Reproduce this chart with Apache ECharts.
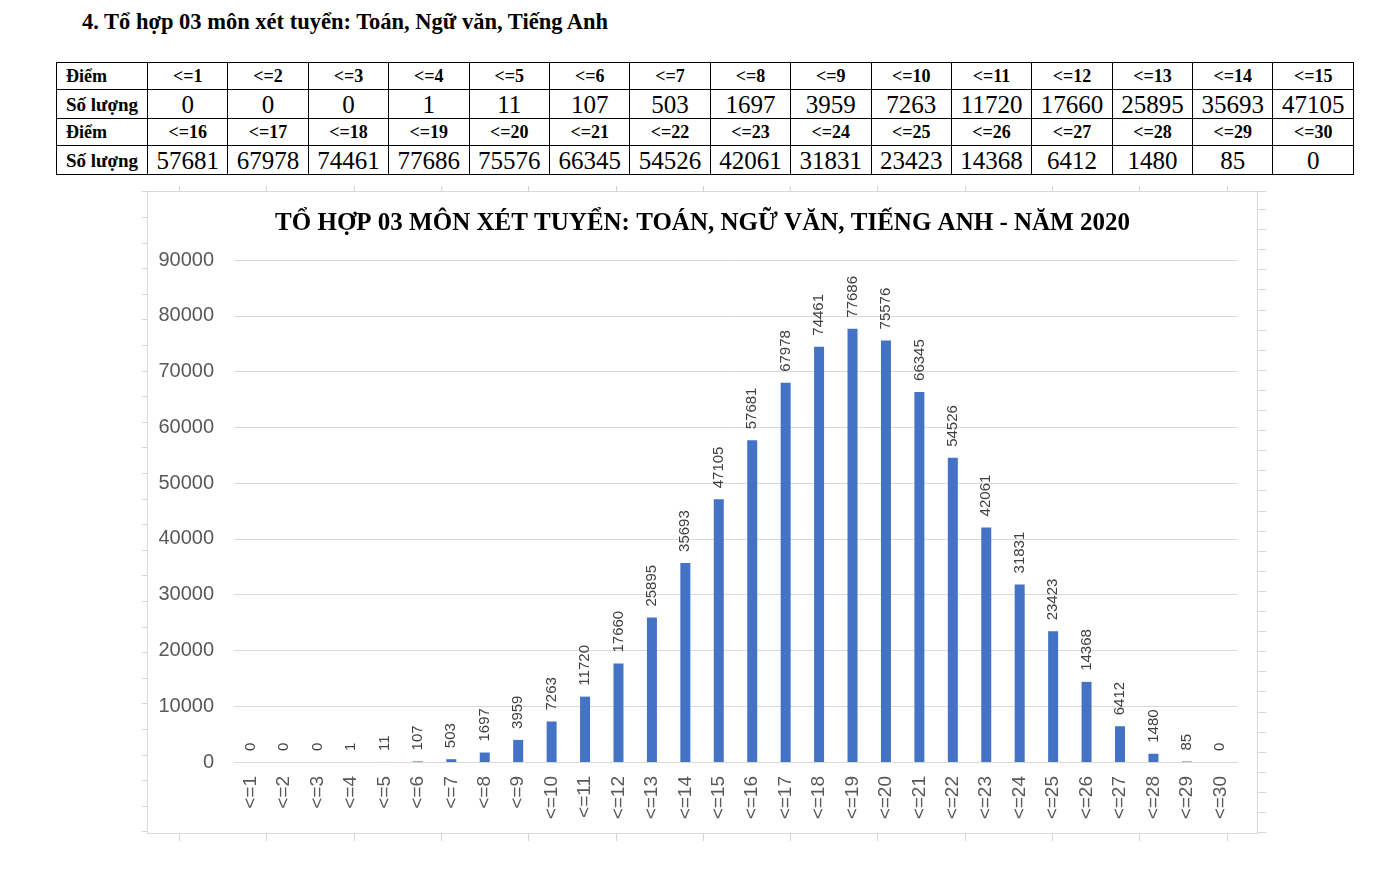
<!DOCTYPE html>
<html>
<head>
<meta charset="utf-8">
<script src="https://cdn.jsdelivr.net/npm/echarts@6/dist/echarts.min.js"></script>
<style>
  html, body { margin: 0; padding: 0; background: #fff; }
  body { width: 1390px; height: 875px; position: relative; overflow: hidden; }
  #heading { position: absolute; left: 82px; top: 9px; font-family: "Liberation Serif", "Times New Roman", serif; font-weight: bold; font-size: 22.5px; color: #000; white-space: nowrap; }
  #tbl { position: absolute; left: 56px; top: 62px; width: 1297px; table-layout: fixed; border-collapse: collapse; font-family: "Liberation Serif", "Times New Roman", serif; color: #000; }
  #tbl td { border: 1px solid #000; padding: 0; text-align: center; white-space: nowrap; overflow: hidden; }
  #tbl td.first { text-align: left; padding-left: 9px; font-weight: bold; font-size: 19px; }
  #tbl tr.hdr { height: 27px; }
  #tbl tr.val { height: 29px; }
  #tbl tr.hdr td { font-weight: bold; font-size: 18px; line-height: 25px; }
  #tbl tr.val td { font-size: 25px; line-height: 27px; }
  #tbl tr.val td.first { font-size: 19px; }
  #chartBox { position: absolute; left: 147px; top: 191px; width: 1111px; height: 643px; border: 1px solid #d9d9d9; box-sizing: border-box; }
  #chart { width: 100%; height: 100%; }
  .tk { position: absolute; background: #d4d4d4; }
</style>
</head>
<body>
<div id="heading">4. Tổ hợp 03 môn xét tuyển: Toán, Ngữ văn, Tiếng Anh</div>
<table id="tbl"><colgroup id="cols"></colgroup></table>
<div id="chartBox"><div id="chart"></div></div>
<div id="frameTicks"></div>
<script>
const categories = ["<=1","<=2","<=3","<=4","<=5","<=6","<=7","<=8","<=9","<=10","<=11","<=12","<=13","<=14","<=15","<=16","<=17","<=18","<=19","<=20","<=21","<=22","<=23","<=24","<=25","<=26","<=27","<=28","<=29","<=30"];
const counts = [0,0,0,1,11,107,503,1697,3959,7263,11720,17660,25895,35693,47105,57681,67978,74461,77686,75576,66345,54526,42061,31831,23423,14368,6412,1480,85,0];
const rowHeaderScore = "Điểm";
const rowHeaderCount = "Số lượng";
const chartTitle = "TỔ HỢP 03 MÔN XÉT TUYỂN: TOÁN, NGỮ VĂN, TIẾNG ANH - NĂM 2020";

// Build table (two blocks of 15 columns)
const tbl = document.getElementById('tbl');
const cols = document.getElementById('cols');
cols.innerHTML = '<col style="width:91px">' + Array(15).fill('<col style="width:80.4px">').join('');
for (let b = 0; b < 2; b++) {
  const cats = categories.slice(b*15, b*15+15);
  const vals = counts.slice(b*15, b*15+15);
  const tr1 = document.createElement('tr'); tr1.className = 'hdr';
  tr1.innerHTML = '<td class="first">' + rowHeaderScore + '</td>' + cats.map(c => '<td>' + c.replace('<','&lt;') + '</td>').join('');
  const tr2 = document.createElement('tr'); tr2.className = 'val';
  tr2.innerHTML = '<td class="first">' + rowHeaderCount + '</td>' + vals.map(v => '<td>' + v + '</td>').join('');
  tbl.appendChild(tr1); tbl.appendChild(tr2);
}

// Decorative frame ticks around the embedded chart (document ruler marks)
const ft = document.getElementById('frameTicks');
let html = '';
for (let x = 179; x < 1250; x += 87.3) {
  html += '<div class="tk" style="left:' + x + 'px;top:186px;width:1px;height:5px"></div>';
  html += '<div class="tk" style="left:' + x + 'px;top:834px;width:1px;height:7px"></div>';
}
for (let y = 217; y < 834; y += 25.6) {
  html += '<div class="tk" style="left:142px;top:' + y + 'px;width:5px;height:1px"></div>';
}
for (let y = 209; y <= 834; y += 20.1) {
  html += '<div class="tk" style="left:1258px;top:' + y + 'px;width:8px;height:1px"></div>';
}
html += '<div class="tk" style="left:142px;top:191px;width:5px;height:1px"></div>';
html += '<div class="tk" style="left:1258px;top:191px;width:8px;height:1px"></div>';
ft.innerHTML = html;

const chart = echarts.init(document.getElementById('chart'));
chart.setOption({
  animation: false,
  title: {
    text: chartTitle, left: 'center', top: 14,
    textStyle: { fontFamily: '"Liberation Serif", "Times New Roman", serif', fontWeight: 'bold', fontSize: 25, color: '#000' }
  },
  grid: { left: 86, right: 20, top: 68, bottom: 71 },
  xAxis: {
    type: 'category', data: categories,
    axisLine: { lineStyle: { color: '#d9d9d9' } },
    axisTick: { show: false },
    axisLabel: { rotate: 90, color: '#595959', fontSize: 19, fontFamily: '"Liberation Sans", Arial, sans-serif', margin: 14 }
  },
  yAxis: {
    type: 'value', min: 0, max: 90000, interval: 10000,
    axisLine: { show: false }, axisTick: { show: false },
    splitLine: { lineStyle: { color: '#d9d9d9' } },
    axisLabel: { color: '#595959', fontSize: 20, fontFamily: '"Liberation Sans", Arial, sans-serif', margin: 20, formatter: v => String(v) }
  },
  series: [{
    type: 'bar', data: counts, barWidth: 10,
    itemStyle: { color: '#4472c4' },
    label: {
      show: true, position: 'top', rotate: 90, align: 'left', verticalAlign: 'middle', distance: 11,
      color: '#404040', fontSize: 15, fontFamily: '"Liberation Sans", Arial, sans-serif'
    }
  }]
});
</script>
</body>
</html>
